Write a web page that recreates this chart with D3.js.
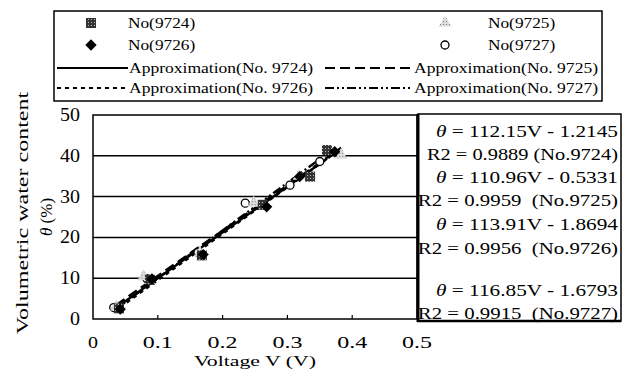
<!DOCTYPE html>
<html><head><meta charset="utf-8">
<script src="https://cdn.jsdelivr.net/npm/d3@7"></script>
<style>
body{margin:0;background:#fff;}
svg text{font-family:"Liberation Serif","DejaVu Serif",serif;fill:#000;white-space:pre;}
</style></head>
<body><svg id="c" width="623" height="369"></svg>
<script>
// ---- data ----
const seriesNames = ["No(9724)", "No(9725)", "No(9726)", "No(9727)"];
const fitNames = ["Approximation(No. 9724)", "Approximation(No. 9725)", "Approximation(No. 9726)", "Approximation(No. 9727)"];
const v9724 = [0.040, 0.088, 0.168, 0.262, 0.335, 0.361];
const t9724 = [2.6, 9.6, 15.6, 28.0, 34.9, 41.4];
const v9725 = [0.036, 0.078, 0.165, 0.248, 0.318, 0.383];
const t9725 = [3.0, 10.4, 16.2, 28.4, 35.0, 40.2];
const v9726 = [0.042, 0.091, 0.170, 0.268, 0.319, 0.373];
const t9726 = [2.4, 9.8, 15.8, 27.5, 34.9, 41.0];
const v9727 = [0.032, 0.083, 0.162, 0.235, 0.304, 0.350];
const t9727 = [2.8, 9.9, 16.3, 28.4, 32.8, 38.6];
const slopes = [112.15, 110.96, 113.91, 116.85];
const intercepts = [-1.2145, -0.5331, -1.8694, -1.6793];
const eqLines = [
  "θ = 112.15V - 1.2145", "R2 = 0.9889 (No.9724)",
  "θ = 110.96V - 0.5331", "R2 = 0.9959  (No.9725)",
  "θ = 113.91V - 1.8694", "R2 = 0.9956  (No.9726)",
  "θ = 116.85V - 1.6793", "R2 = 0.9915  (No.9727)"
];
const xTicks = [0, 0.1, 0.2, 0.3, 0.4, 0.5];
const yTicks = [0, 10, 20, 30, 40, 50];

const svg = d3.select("#c");
const defs = svg.append("defs");
function stipple(id, bg, dot) {
  const p = defs.append("pattern").attr("id", id).attr("width", 3).attr("height", 3).attr("patternUnits", "userSpaceOnUse");
  p.append("rect").attr("width", 3).attr("height", 3).attr("fill", bg);
  p.append("rect").attr("x", 1).attr("y", 1).attr("width", 1).attr("height", 1).attr("fill", dot);
}
stipple("pSq", "#333", "#bbb");
stipple("pTri", "#ddd", "#777");

// monospace-like width helper
function mono(sel, cw) { sel.attr("textLength", function(d){ return this.textContent.length * cw; }).attr("lengthAdjust", "spacingAndGlyphs"); }

const x = d3.scaleLinear().domain([0, 0.5]).range([93, 417]);
const y = d3.scaleLinear().domain([0, 50]).range([319, 115]);

// grid
const g = svg.append("g");
g.selectAll("line.grid").data(yTicks.filter(d => d > 0 && d < 50)).join("line")
  .attr("x1", x(0)).attr("x2", x(0.5)).attr("y1", d => y(d)).attr("y2", d => y(d))
  .attr("stroke", "#000").attr("stroke-width", 1.5);
// frame
g.append("rect").attr("x", x(0)).attr("y", y(50)).attr("width", x(0.5) - x(0)).attr("height", y(0) - y(50))
  .attr("fill", "none").attr("stroke", "#000").attr("stroke-width", 1.5);
// x ticks (inward)
g.selectAll("line.xt").data(xTicks.filter(d => d > 0 && d < 0.5)).join("line")
  .attr("x1", d => x(d)).attr("x2", d => x(d)).attr("y1", y(0)).attr("y2", y(0) - 4)
  .attr("stroke", "#000").attr("stroke-width", 1.2);
// tick labels
svg.selectAll("text.xl").data(xTicks).join("text")
  .attr("x", d => x(d)).attr("y", 348).attr("text-anchor", "middle").attr("font-size", 17)
  .text(d => d === 0 ? "0" : d3.format(".1f")(d))
  .call(mono, 10);
svg.selectAll("text.yl").data(yTicks).join("text")
  .attr("x", 80).attr("y", d => y(d) + 6).attr("text-anchor", "end").attr("font-size", 18)
  .text(d => d)
  .call(mono, 10);
// axis titles
svg.append("text").attr("x", 255).attr("y", 366).attr("text-anchor", "middle").attr("font-size", 14).text("Voltage V (V)").call(mono, 9.4);
svg.append("text").attr("transform", "translate(28,213) rotate(-90)").attr("text-anchor", "middle").attr("font-size", 17).text("Volumetric water content").call(mono, 10.1);
svg.append("text").attr("transform", "translate(52,217) rotate(-90)").attr("text-anchor", "middle").attr("font-size", 17)
  .html('<tspan font-style="italic">θ</tspan> (%)');

// fit lines
const dashes = [null, "10,5", "4,4", "9,3,2,3,2,3"];
const vs = [v9724, v9725, v9726, v9727];
const ts = [t9724, t9725, t9726, t9727];
const line = d3.line().x(d => x(d[0])).y(d => y(d[1]));
vs.forEach((vv, i) => {
  const ext = d3.extent(vv);
  const pts = ext.map(v => [v, slopes[i] * v + intercepts[i]]);
  svg.append("path").attr("d", line(pts)).attr("fill", "none").attr("stroke", "#000")
    .attr("stroke-width", 2.4).attr("stroke-dasharray", dashes[i]);
});

// markers
function drawMarker(sel, k, cx, cy) {
  if (k === 0) sel.append("rect").attr("x", cx - 5).attr("y", cy - 5).attr("width", 10).attr("height", 10).attr("fill", "url(#pSq)");
  if (k === 1) sel.append("path").attr("d", d3.symbol(d3.symbolTriangle, 70)()).attr("transform", `translate(${cx},${cy})`).attr("fill", "url(#pTri)");
  if (k === 2) sel.append("rect").attr("x", -4).attr("y", -4).attr("width", 8).attr("height", 8).attr("transform", `translate(${cx},${cy}) rotate(45)`).attr("fill", "#000");
  if (k === 3) sel.append("circle").attr("cx", cx).attr("cy", cy).attr("r", 4).attr("fill", "#fff").attr("stroke", "#000").attr("stroke-width", 1.3);
}
const mg = svg.append("g");
[3, 1, 0, 2].forEach(k => {
  vs[k].forEach((v, j) => drawMarker(mg, k, x(v), y(ts[k][j])));
});

// equation box
svg.append("rect").attr("x", 418).attr("y", 114).attr("width", 203).attr("height", 207)
  .attr("fill", "#fff").attr("stroke", "#000").attr("stroke-width", 1.5);
svg.append("line").attr("x1", 418).attr("x2", 418).attr("y1", 114).attr("y2", 322).attr("stroke", "#000").attr("stroke-width", 3);
svg.append("line").attr("x1", 417).attr("x2", 621).attr("y1", 321).attr("y2", 321).attr("stroke", "#000").attr("stroke-width", 2.5);
const eqY = [131, 154, 177, 200, 224, 248, 290, 313];
svg.selectAll("text.eq").data(eqLines).join("text")
  .attr("x", 618).attr("y", (d, i) => eqY[i] + 6).attr("text-anchor", "end").attr("font-size", 17)
  .each(function(d) {
    const t = d3.select(this);
    if (d.startsWith("θ")) {
      t.append("tspan").attr("font-style", "italic").text("θ");
      t.append("tspan").text(d.slice(1));
    } else t.text(d);
  })
  .call(mono, 9.1);

// legend
svg.append("rect").attr("x", 54).attr("y", 11).attr("width", 548).attr("height", 90)
  .attr("fill", "#fff").attr("stroke", "#000").attr("stroke-width", 1.5);
const lg = svg.append("g");
const symX = [91, 445], txtX = [128, 488], rowY = [23, 45];
seriesNames.forEach((n, k) => {
  const c = k % 2, r = Math.floor(k / 2);
  drawMarker(lg, k, symX[c], rowY[r]);
  lg.append("text").attr("x", txtX[c]).attr("y", rowY[r] + 5).attr("font-size", 15).text(n).call(mono, 8.4);
});
const lineX = [[57, 128], [325, 413]], lineTxtX = [129, 414], lineY = [68, 88];
fitNames.forEach((n, k) => {
  const c = k % 2, r = Math.floor(k / 2);
  lg.append("line").attr("x1", lineX[c][0]).attr("x2", lineX[c][1]).attr("y1", lineY[r]).attr("y2", lineY[r])
    .attr("stroke", "#000").attr("stroke-width", 2).attr("stroke-dasharray", dashes[k]);
  lg.append("text").attr("x", lineTxtX[c]).attr("y", lineY[r] + 5).attr("font-size", 15).text(n).call(mono, 8.0);
});
</script></body></html>
